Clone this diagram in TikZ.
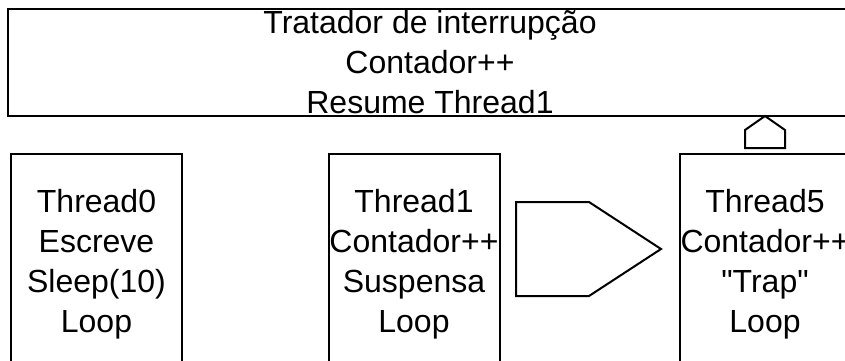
\documentclass[tikz,border=0pt]{standalone}
\usepackage{fontspec}
\setmainfont{Liberation Sans}[Ligatures=TeXOff]
\begin{document}
\begin{tikzpicture}[x=1pt, y=-1pt, line width=2pt,
  txt/.style={align=center, inner sep=0pt, font=\fontsize{32}{40}\selectfont},
  threadbox/.style={draw, rectangle, txt, minimum width=171pt, minimum height=220pt},
  handlerbox/.style={draw, rectangle, txt, minimum width=844pt, minimum height=107pt}]
\useasboundingbox (0,0) rectangle (845,360);
\clip (0,0) rectangle (845,360);

% interrupt handler
\node[handlerbox] (handler) at (430,62.5)
  {Tratador de interrupção\\Contador++\\Resume Thread1};

% threads
\node[threadbox] (t0) at (96.5,264) {Thread0\\Escreve\\Sleep(10)\\Loop};
\node[threadbox] (t1) at (414,264) {Thread1\\Contador++\\Suspensa\\Loop};
\node[threadbox] (t5) at (765,264) {Thread5\\Contador++\\"Trap"\\Loop};

% switch from Thread1 to Thread5
\draw (516,202) -- (589,202) -- (661,249) -- (589,296) -- (516,296) -- cycle;

% trap from Thread5 into the handler
\draw (745,148) -- (745,130) -- (765,116) -- (785,130) -- (785,148) -- cycle;
\end{tikzpicture}
\end{document}
